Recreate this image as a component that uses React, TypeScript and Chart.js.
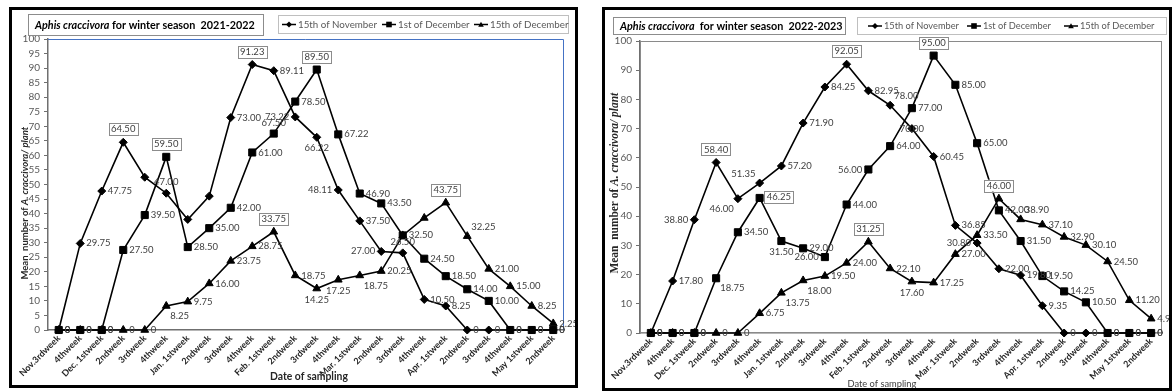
import React, { useEffect, useRef } from 'react';
import { Chart, registerables } from 'chart.js';
Chart.register(...registerables);

// ---------- data ----------
const weekLabels = [
  'Nov.3rdweek', '4thweek', 'Dec. 1stweek', '2ndweek', '3rdweek', '4thweek',
  'Jan. 1stweek', '2ndweek', '3rdweek', '4thweek', 'Feb. 1stweek', '2ndweek',
  '3rdweek', '4thweek', 'Mar. 1stweek', '2ndweek', '3rdweek', '4thweek',
  'Apr. 1stweek', '2ndweek', '3rdweek', '4thweek', 'May 1stweek', '2ndweek',
];
const seriesNames = ['15th of November', '1st of December', '15th of December'];

// Season 2021-2022
const nov15_2021 = [0, 29.75, 47.75, 64.5, 52.5, 47, 38, 46, 73, 91.23, 89.11, 73.22, 66.22, 48.11, 37.5, 27, 26.5, 10.5, 8.25, 0, 0, 0, 0, 0];
const dec1_2021 = [0, 0, 0, 27.5, 39.5, 59.5, 28.5, 35, 42, 61, 67.5, 78.5, 89.5, 67.22, 46.9, 43.5, 32.5, 24.5, 18.5, 14, 10, 0, 0, 0];
const dec15_2021 = [0, 0, 0, 0, 0, 8.25, 9.75, 16, 23.75, 28.75, 33.75, 18.75, 14.25, 17.25, 18.75, 20.25, 32.5, 38.5, 43.75, 32.25, 21, 15, 8.25, 2.25];

// Season 2022-2023
const nov15_2022 = [0, 17.8, 38.8, 58.4, 46, 51.35, 57.2, 71.9, 84.25, 92.05, 82.95, 78, 70, 60.45, 36.85, 30.8, 22, 19.8, 9.35, 0, 0, 0, 0, 0];
const dec1_2022 = [0, 0, 0, 18.75, 34.5, 46.25, 31.5, 29, 26, 44, 56, 64, 77, 95, 85, 65, 42, 31.5, 19.5, 14.25, 10.5, 0, 0, 0];
const dec15_2022 = [0, 0, 0, 0, 0, 6.75, 13.75, 18, 19.5, 24, 31.25, 22.1, 17.6, 17.25, 27, 33.5, 46, 38.9, 37.1, 32.9, 30.1, 24.5, 11.2, 4.9];

// ---------- label placement (style) ----------
// r right, l left, a above, b below, ar/br/al/bl diagonals, c centre, A boxed above, R boxed right, '' none
const R = 'r';
const place2021 = [
  [R, R, R, 'A', '', 'a', '', '', R, 'A', R, 'l', 'b', 'l', R, 'l', 'a', R, R, R, R, R, R, R],
  [R, R, R, R, R, 'A', R, R, R, R, 'a', R, 'A', R, R, R, R, R, R, R, R, R, R, R],
  [R, R, R, R, R, 'br', R, R, R, R, 'A', R, 'b', 'b', 'br', R, '', '', 'A', 'ar', R, R, R, R],
];
const place2022 = [
  [R, R, 'l', 'A', 'bl', 'al', R, R, R, 'A', R, 'ar', 'c', R, R, 'l', R, R, R, R, R, R, R, R],
  [R, R, R, 'br', R, 'R', 'b', R, 'l', R, 'l', R, R, 'A', R, R, R, R, R, R, R, R, R, R],
  [R, R, R, R, R, R, 'br', 'br', R, R, 'A', R, 'b', R, R, R, 'A', 'ar', R, R, R, R, R, R],
];

const SANS = 'Lato, "Open Sans", sans-serif';
const SERIF = '"Liberation Serif", "DejaVu Serif", serif';
const GREY = '#595959';
const pointStyles = ['rectRot', 'rect', 'triangle'];
const pointRadii = [4, 5, 4.5];
const drawOrder = [1, 0, 2];

type Seg = { t: string; italic?: boolean };

type PanelCfg = {
  frame: [number, number, number, number];
  area: [number, number, number, number];
  yStep: number;
  series: number[][];
  places: string[][];
  title: Seg[];
  titleBox: [number, number, number, number];
  titleText: [number, number];
  legendBox: [number, number, number, number];
  legendText: number[];
  legendWidth: number;
  yTitle: { x: number; y: number; len: number; family: string; color: string };
  xTitle: { x: number; y: number; len: number; weight: string; color: string };
  plotBorder: 'blue' | 'grey';
};

function fnt(size: number, weight: string, italic: boolean | undefined, family: string) {
  return `${italic ? 'italic ' : ''}${weight} ${size}px ${family}`;
}
function measureSegs(ctx: CanvasRenderingContext2D, segs: Seg[], size: number, weight: string, family: string) {
  let w = 0;
  for (const s of segs) {
    ctx.font = fnt(size, weight, s.italic, family);
    w += ctx.measureText(s.t).width;
  }
  return w;
}
function drawSegs(ctx: CanvasRenderingContext2D, segs: Seg[], x: number, y: number, size: number, weight: string, family: string) {
  let cx = x;
  for (const s of segs) {
    ctx.font = fnt(size, weight, s.italic, family);
    ctx.fillText(s.t, cx, y);
    cx += ctx.measureText(s.t).width;
  }
}
function fitSize(ctx: CanvasRenderingContext2D, segs: Seg[], weight: string, family: string, target: number) {
  const w = measureSegs(ctx, segs, 10, weight, family);
  return (10 * target) / w;
}

function drawMarker(ctx: CanvasRenderingContext2D, style: string, x: number, y: number, r: number) {
  ctx.beginPath();
  if (style === 'rectRot') {
    ctx.moveTo(x, y - r); ctx.lineTo(x + r, y); ctx.lineTo(x, y + r); ctx.lineTo(x - r, y);
  } else if (style === 'rect') {
    ctx.rect(x - r, y - r, 2 * r, 2 * r);
  } else {
    ctx.moveTo(x, y - r); ctx.lineTo(x + r, y + r * 0.8); ctx.lineTo(x - r, y + r * 0.8);
  }
  ctx.closePath();
  ctx.fill();
}

function makePlugin(cfg: PanelCfg) {
  return {
    id: 'panelDecor',
    beforeDatasetsDraw(chart: any) {
      const { ctx, chartArea: a } = chart;
      ctx.save();
      ctx.lineWidth = 1;
      if (cfg.plotBorder === 'blue') {
        ctx.strokeStyle = '#4472C4';
        ctx.beginPath();
        ctx.moveTo(a.left, a.top + 0.5); ctx.lineTo(a.right - 0.5, a.top + 0.5); ctx.lineTo(a.right - 0.5, a.bottom);
        ctx.stroke();
      } else {
        ctx.strokeStyle = '#8a8a8a';
        ctx.strokeRect(a.left + 0.5, a.top + 0.5, a.right - a.left - 1, a.bottom - a.top - 1);
      }
      ctx.restore();
    },
    afterDatasetsDraw(chart: any) {
      const { ctx } = chart;
      ctx.save();
      ctx.font = `9.5px ${SANS}`;
      ctx.fillStyle = '#404040';
      cfg.series.forEach((vals, i) => {
        const meta = chart.getDatasetMeta(i);
        meta.data.forEach((pt: any, j: number) => {
          const code = cfg.places[i][j];
          if (!code) return;
          const v = vals[j];
          const txt = v === 0 ? '0' : v.toFixed(2);
          const x = pt.x, y = pt.y;
          const w = ctx.measureText(txt).width;
          let tx = x + 6, ty = y;
          switch (code) {
            case 'l': tx = x - 6 - w; break;
            case 'a': tx = x - w / 2; ty = y - 11; break;
            case 'b': tx = x - w / 2; ty = y + 11; break;
            case 'ar': tx = x + 4; ty = y - 9; break;
            case 'br': tx = x + 4; ty = y + 10; break;
            case 'al': tx = x - 4 - w; ty = y - 9; break;
            case 'bl': tx = x - 4 - w; ty = y + 10; break;
            case 'c': tx = x - w / 2; break;
            case 'A': tx = x - w / 2; ty = y - 13; break;
            case 'R': tx = x + 7; ty = y - 1; break;
          }
          if (code === 'A' || code === 'R') {
            ctx.fillStyle = '#fff';
            ctx.fillRect(tx - 2.5, ty - 6, w + 5, 12);
            ctx.strokeStyle = '#8c8c8c';
            ctx.lineWidth = 1;
            ctx.strokeRect(Math.round(tx - 2.5) + 0.5, Math.round(ty - 6) + 0.5, Math.round(w + 5), 12);
            ctx.fillStyle = '#404040';
          }
          ctx.textAlign = 'left';
          ctx.textBaseline = 'middle';
          ctx.fillText(txt, tx, ty);
        });
      });
      ctx.restore();
    },
    afterDraw(chart: any) {
      const { ctx } = chart;
      ctx.save();
      // title box
      const [bx, by, bw, bh] = cfg.titleBox;
      ctx.strokeStyle = '#8c8c8c';
      ctx.lineWidth = 1;
      ctx.strokeRect(bx + 0.5, by + 0.5, bw, bh);
      const tsize = fitSize(ctx, cfg.title, 'bold', SANS, cfg.titleText[1]);
      ctx.fillStyle = '#000';
      ctx.textBaseline = 'middle';
      ctx.textAlign = 'left';
      drawSegs(ctx, cfg.title, cfg.titleText[0], by + bh / 2 + 1, tsize, 'bold', SANS);
      // legend box
      const [lx, ly, lw, lh] = cfg.legendBox;
      ctx.strokeStyle = '#bfbfbf';
      ctx.strokeRect(lx + 0.5, ly + 0.5, lw, lh);
      const lsize = fitSize(ctx, [{ t: seriesNames[0] }], 'normal', SANS, cfg.legendWidth);
      const cy = ly + lh / 2 + 0.5;
      seriesNames.forEach((name, i) => {
        const tx = cfg.legendText[i];
        ctx.strokeStyle = '#000';
        ctx.lineWidth = 1.5;
        ctx.beginPath();
        ctx.moveTo(tx - 16, cy); ctx.lineTo(tx - 2, cy);
        ctx.stroke();
        ctx.fillStyle = '#000';
        drawMarker(ctx, pointStyles[i], tx - 9, cy, i === 0 ? 3 : 2.8);
        ctx.fillStyle = GREY;
        ctx.font = fnt(lsize, 'normal', false, SANS);
        ctx.fillText(name, tx, cy + 0.5);
      });
      // y title
      const yt = cfg.yTitle;
      const ysegs: Seg[] = [{ t: 'Mean  number of ' }, { t: 'A. craccivora/ plant', italic: true }];
      const ysize = fitSize(ctx, ysegs, 'bold', yt.family, yt.len);
      ctx.save();
      ctx.translate(yt.x, yt.y);
      ctx.rotate(-Math.PI / 2);
      ctx.fillStyle = yt.color;
      drawSegs(ctx, ysegs, -yt.len / 2, 0, ysize, 'bold', yt.family);
      ctx.restore();
      // x title
      const xt = cfg.xTitle;
      const xsegs: Seg[] = [{ t: 'Date of sampling' }];
      const xsize = fitSize(ctx, xsegs, xt.weight, SANS, xt.len);
      ctx.fillStyle = xt.color;
      drawSegs(ctx, xsegs, xt.x - xt.len / 2, xt.y, xsize, xt.weight, SANS);
      ctx.restore();
    },
  };
}

function Panel({ cfg }: { cfg: PanelCfg }) {
  const ref = useRef<HTMLCanvasElement | null>(null);
  const W = cfg.frame[2] - 6;
  const H = cfg.frame[3] - 6;
  useEffect(() => {
    if (!ref.current) return;
    const [aL, aT, aR, aB] = cfg.area;
    const chart = new Chart(ref.current, {
      type: 'line',
      data: {
        labels: weekLabels,
        datasets: cfg.series.map((d, i) => ({
          label: seriesNames[i],
          data: d,
          order: drawOrder[i],
          clip: false,
          borderColor: '#000',
          backgroundColor: '#000',
          borderWidth: 1.6,
          pointStyle: pointStyles[i] as any,
          pointRadius: pointRadii[i],
          pointBorderWidth: 1,
          pointBorderColor: '#000',
          pointBackgroundColor: '#000',
          tension: 0,
          fill: false,
        })),
      },
      options: {
        responsive: false,
        animation: false,
        events: [],
        layout: { padding: { left: 0, top: aT, right: W - aR, bottom: 0 } },
        plugins: { legend: { display: false }, tooltip: { enabled: false }, title: { display: false } },
        scales: {
          x: {
            offset: true,
            grid: { display: false, drawTicks: false },
            border: { display: true, color: '#6f6f6f', width: 1.5 },
            ticks: {
              autoSkip: false, minRotation: 45, maxRotation: 45, padding: 3,
              color: '#262626', font: { family: SANS, size: 9, weight: 'bold' },
            },
            afterFit: (s: any) => { s.height = H - aB; s.paddingLeft = 0; s.paddingRight = 0; },
          },
          y: {
            min: 0, max: 100,
            ticks: { stepSize: cfg.yStep, autoSkip: false, color: GREY, font: { family: SANS, size: 10 }, padding: 4 },
            grid: { drawOnChartArea: false, drawTicks: true, tickLength: 4, color: '#6f6f6f' },
            border: { display: true, color: '#6f6f6f', width: 1.5 },
            afterFit: (s: any) => { s.width = aL; s.paddingTop = 0; s.paddingBottom = 0; },
          },
        },
      } as any,
      plugins: [makePlugin(cfg) as any],
    });
    return () => chart.destroy();
  }, [cfg]);
  return (
    <div
      style={{
        position: 'absolute', left: cfg.frame[0], top: cfg.frame[1], width: cfg.frame[2], height: cfg.frame[3],
        border: '3px solid #000', boxSizing: 'border-box', background: '#fff',
      }}
    >
      <canvas ref={ref} width={W} height={H} style={{ display: 'block', width: W, height: H }} />
    </div>
  );
}

const leftCfg: PanelCfg = {
  frame: [9, 7, 569, 381],
  area: [36, 29, 552, 320],
  yStep: 5,
  series: [nov15_2021, dec1_2021, dec15_2021],
  places: place2021,
  title: [{ t: 'Aphis craccivora', italic: true }, { t: ' for winter season  2021-2022' }],
  titleBox: [16, 4, 235, 21],
  titleText: [23, 220],
  legendBox: [266, 5, 290, 18],
  legendText: [286, 386, 478],
  legendWidth: 79,
  yTitle: { x: 13, y: 193, len: 153, family: SANS, color: '#262626' },
  xTitle: { x: 297, y: 367, len: 78, weight: 'bold', color: '#262626' },
  plotBorder: 'blue',
};

const rightCfg: PanelCfg = {
  frame: [602, 7, 570, 384],
  area: [35, 31, 557, 323],
  yStep: 10,
  series: [nov15_2022, dec1_2022, dec15_2022],
  places: place2022,
  title: [{ t: 'Aphis craccivora', italic: true }, { t: '  for winter season  2022-2023' }],
  titleBox: [8, 7, 232, 17],
  titleText: [15, 223],
  legendBox: [252, 7, 309, 17],
  legendText: [279, 378, 475],
  legendWidth: 75,
  yTitle: { x: 10, y: 173, len: 181, family: SERIF, color: '#262626' },
  xTitle: { x: 277, y: 374, len: 69, weight: 'normal', color: '#404040' },
  plotBorder: 'grey',
};

export default function App() {
  return (
    <div style={{ position: 'absolute', left: 0, top: 0, width: 1173, height: 392, background: '#fff', overflow: 'hidden' }}>
      <Panel cfg={leftCfg} />
      <Panel cfg={rightCfg} />
    </div>
  );
}
